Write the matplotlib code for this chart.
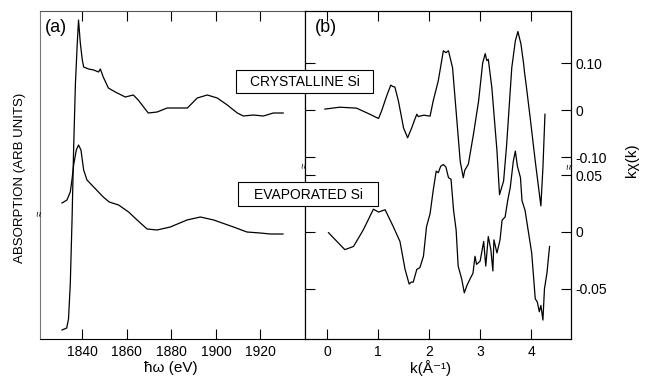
import matplotlib
matplotlib.use("Agg")
import matplotlib.pyplot as plt
from matplotlib.patches import Rectangle

plt.rcParams['font.family'] = ['Liberation Sans', 'DejaVu Sans']

# (a) absorption near the Si K edge, arb. units
e_cryst = [1830.9, 1833.0, 1833.8, 1834.6, 1835.4, 1836.1, 1836.9, 1837.7, 1838.3,
           1839.1, 1840.0, 1840.6, 1842.8, 1845.1, 1847.3, 1848.1, 1849.4, 1851.7,
           1854.8, 1859.3, 1862.9, 1865.1, 1869.6, 1873.6, 1878.1, 1881.8, 1887.2,
           1891.6, 1896.1, 1900.6, 1905.1, 1909.6, 1912.3, 1916.8, 1921.3, 1925.8, 1930.2]
a_cryst = [0.09, 0.11, 0.20, 0.55, 1.20, 1.90, 2.55, 2.94, 3.19,
           2.96, 2.79, 2.72, 2.70, 2.69, 2.67, 2.70, 2.62, 2.51,
           2.47, 2.42, 2.44, 2.39, 2.26, 2.27, 2.31, 2.31, 2.31,
           2.41, 2.44, 2.41, 2.34, 2.26, 2.23, 2.24, 2.23, 2.26, 2.26]

e_evap = [1830.9, 1833.1, 1834.6, 1835.4, 1836.1, 1837.3, 1838.3, 1839.4, 1840.6, 1842.1,
          1845.1, 1849.4, 1852.1, 1856.3, 1860.8, 1864.6, 1869.1, 1873.5, 1879.5,
          1887.0, 1893.0, 1899.0, 1907.9, 1913.9, 1919.9, 1924.4, 1930.1]
a_evap = [1.36, 1.39, 1.47, 1.60, 1.74, 1.89, 1.94, 1.89, 1.69, 1.59,
          1.52, 1.42, 1.37, 1.34, 1.27, 1.19, 1.10, 1.09, 1.12,
          1.19, 1.22, 1.19, 1.12, 1.07, 1.06, 1.05, 1.05]

# (b) k*chi(k)
k_cryst = [-0.04, 0.25, 0.58, 0.84, 1.01, 1.07, 1.17, 1.25, 1.29, 1.33, 1.40, 1.50,
           1.58, 1.66, 1.72, 1.76, 1.79, 1.82, 1.90, 2.02, 2.08, 2.18, 2.28, 2.33,
           2.38, 2.46, 2.54, 2.61, 2.67, 2.70, 2.77, 2.87, 2.97, 3.05, 3.10, 3.13,
           3.16, 3.23, 3.33, 3.38, 3.46, 3.52, 3.62, 3.69, 3.74, 3.80, 3.85, 3.87,
           3.90, 3.98, 4.08, 4.19, 4.23, 4.27]
chi_cryst = [0.002, 0.006, 0.004, -0.009, -0.018, -0.002, 0.030, 0.053, 0.050, 0.049, 0.019, -0.038,
             -0.059, -0.038, -0.020, -0.009, -0.014, -0.013, -0.011, -0.013, 0.019, 0.062, 0.126, 0.122,
             0.126, 0.090, -0.016, -0.109, -0.144, -0.128, -0.115, -0.051, 0.019, 0.100, 0.120, 0.105,
             0.108, 0.047, -0.087, -0.180, -0.151, -0.073, 0.090, 0.147, 0.167, 0.140, 0.100, 0.080,
             0.055, -0.016, -0.109, -0.204, -0.123, -0.009]

k_evap = [0.03, 0.35, 0.52, 0.71, 0.91, 1.01, 1.14, 1.30, 1.43, 1.53, 1.61, 1.65,
          1.69, 1.76, 1.82, 1.89, 1.95, 2.02, 2.08, 2.14, 2.18, 2.23, 2.28, 2.33,
          2.38, 2.43, 2.48, 2.53, 2.57, 2.64, 2.69, 2.74, 2.80, 2.86, 2.90, 2.93,
          3.00, 3.07, 3.11, 3.16, 3.21, 3.25, 3.27, 3.33, 3.39, 3.43, 3.49, 3.54,
          3.59, 3.65, 3.69, 3.73, 3.79, 3.82, 3.88, 3.92, 3.97, 4.01, 4.05, 4.08,
          4.12, 4.16, 4.19, 4.23, 4.26, 4.31, 4.36]
chi_evap = [-0.0006, -0.0155, -0.0127, 0.0017, 0.0200, 0.0175, 0.0195, 0.0046, -0.0083, -0.0328, -0.0457, -0.0440,
            -0.0440, -0.0328, -0.0313, -0.0213, 0.0046, 0.0161, 0.0362, 0.0534, 0.0520, 0.0578, 0.0592, 0.0570,
            0.0477, 0.0463, 0.0190, 0.0017, -0.0299, -0.0414, -0.0534, -0.0471, -0.0414, -0.0362, -0.0213, -0.0284,
            -0.0256, -0.0083, -0.0299, -0.0040, -0.0155, -0.0342, -0.0069, -0.0184, -0.0069, 0.0103, 0.0132, 0.0276,
            0.0390, 0.0620, 0.0710, 0.0578, 0.0477, 0.0276, 0.0190, 0.0075, -0.0069, -0.0184, -0.0414, -0.0586,
            -0.0615, -0.0700, -0.0644, -0.0773, -0.0500, -0.0356, -0.0127]

a_ticks = [1840, 1860, 1880, 1900, 1920]
b_ticks = [0, 1, 2, 3, 4]
cryst_ticks = [-0.10, 0, 0.10]
cryst_labels = ['-0.10', '0', '0.10']
evap_ticks = [-0.05, 0, 0.05]
evap_labels = ['-0.05', '0', '0.05']

W, H = 647, 378
fig = plt.figure(figsize=(W / 100, H / 100), dpi=100)


def px_box(x0, x1, y_top, y_bot):
    # pixel rectangle (from top-left) -> figure fraction
    return [x0 / W, 1 - y_bot / H, (x1 - x0) / W, (y_bot - y_top) / H]


def px(x, y):
    return x / W, 1 - y / H


ax_a = fig.add_axes(px_box(40, 305, 11, 339))
ax_b = fig.add_axes(px_box(305, 571, 11, 339))
ax_b2 = ax_b.twinx()

lw = 0.9
ax_a.plot(e_cryst, a_cryst, color='black', lw=lw)
ax_a.plot(e_evap, a_evap, color='black', lw=lw)
ax_a.set_xlim(1821, 1940)
ax_a.set_ylim(0, 3.28)
ax_a.set_xticks(a_ticks)
ax_a.set_yticks([])
ax_a.tick_params(axis='x', direction='in', top=True, length=7, width=0.8,
                 labelsize=10, pad=4)

ax_b.plot(k_cryst, chi_cryst, color='black', lw=lw)
ax_b2.plot(k_evap, chi_evap, color='black', lw=lw)
ax_b.set_xlim(-0.43, 4.78)
ax_b.set_ylim(-0.487, 0.2106)
ax_b2.set_ylim(-0.0939, 0.1939)
ax_b.set_xticks(b_ticks)
ax_b.tick_params(axis='x', direction='in', top=True, length=7, width=0.8,
                 labelsize=10, pad=4)
ax_b.set_yticks(cryst_ticks, cryst_labels)
ax_b2.set_yticks(evap_ticks, evap_labels)
for ax in (ax_b, ax_b2):
    ax.tick_params(axis='y', direction='in', left=True, right=True,
                   labelleft=False, labelright=True, length=7, width=0.8,
                   labelsize=10, pad=3)

for ax in (ax_a, ax_b, ax_b2):
    for s in ax.spines.values():
        s.set_linewidth(0.8)
ax_a.spines['left'].set_color('#777777')
ax_a.spines['top'].set_color('#555555')

# panel letters
fig.text(*px(56, 28), '(a)', fontsize=13, ha='center', va='center')
fig.text(*px(326, 28), '(b)', fontsize=13, ha='center', va='center')

# sample boxes
for (x0, x1, y0, y1, label) in [(236, 373, 70, 93, 'CRYSTALLINE Si'),
                                 (238, 378, 182, 206, 'EVAPORATED Si')]:
    fig.add_artist(Rectangle(px(x0, y1), (x1 - x0) / W, (y1 - y0) / H,
                             transform=fig.transFigure, facecolor='white',
                             edgecolor='black', lw=0.8, zorder=2))
    fig.text(*px((x0 + x1) / 2, (y0 + y1) / 2 + 1), label, fontsize=10,
             ha='center', va='center', zorder=3)

# axis labels
fig.text(*px(20, 178), 'ABSORPTION (ARB UNITS)', rotation=90, fontsize=9.5,
         ha='center', va='center')
fig.text(*px(171, 368), 'ħω (eV)', fontsize=11, ha='center', va='center')
fig.text(*px(431, 368), 'k(Å⁻¹)', fontsize=11, ha='center', va='center')
fig.text(*px(632, 160), 'kχ(k)', rotation=90, fontsize=11,
         ha='center', va='center')

# axis break marks
for (x, y) in [(40, 213), (305, 165), (570, 166)]:
    fig.text(*px(x, y), '≈', rotation=90, fontsize=7, ha='center', va='center',
             zorder=3)

fig.savefig('out.png', dpi=100)
